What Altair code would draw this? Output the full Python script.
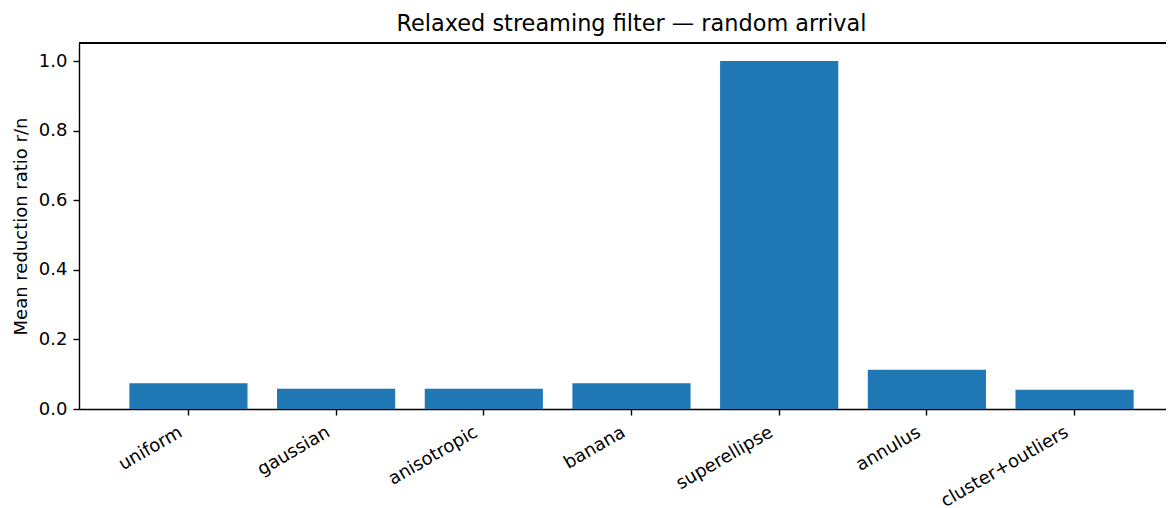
import altair as alt
import pandas as pd

categories = ["uniform", "gaussian", "anisotropic", "banana", "superellipse", "annulus", "cluster+outliers"]
values = [0.074, 0.058, 0.058, 0.074, 1.0, 0.113, 0.055]
y_ticks = [0.0, 0.2, 0.4, 0.6, 0.8, 1.0]

df = pd.DataFrame({"dist": categories, "ratio": values})

W = 1087
H = 366
FONT = "DejaVu Sans"

bars = alt.Chart(df).mark_bar(color="#1f77b4").encode(
    x=alt.X(
        "dist:N",
        sort=categories,
        title=None,
        scale=alt.Scale(range=[0, 1105], paddingInner=0.2, paddingOuter=0.341),
        axis=alt.Axis(
            labelAngle=330,
            labelAlign="right",
            labelBaseline="top",
            labelFontSize=18,
            labelFont=FONT,
            labelColor="black",
            labelPadding=8,
            labelOffset=-12,
            tickSize=6,
            tickColor="black",
            tickWidth=1.4,
            domainColor="black",
            domainWidth=1.4,
            grid=False,
        ),
    ),
    y=alt.Y(
        "ratio:Q",
        title="Mean reduction ratio r/n",
        scale=alt.Scale(domain=[0, 1.052], nice=False, zero=True),
        axis=alt.Axis(
            values=y_ticks,
            format=".1f",
            labelFontSize=18,
            labelFont=FONT,
            labelColor="black",
            labelPadding=6,
            tickSize=6,
            tickColor="black",
            tickWidth=1.4,
            domainColor="black",
            domainWidth=1.4,
            grid=False,
            titleFont=FONT,
            titleFontSize=18,
            titleFontWeight="normal",
            titleColor="black",
            titlePadding=8,
        ),
    ),
)

top_line = alt.Chart(df).mark_rule(color="black", strokeWidth=1.4).encode(
    x=alt.value(0), x2=alt.value(1105), y=alt.value(0)
)

chart = alt.layer(bars, top_line).properties(
    width=W,
    height=H,
    title=alt.TitleParams(
        "Relaxed streaming filter \u2014 random arrival",
        font=FONT,
        fontSize=22.4,
        fontWeight="normal",
        color="black",
        anchor="middle",
        dx=9,
        offset=7,
    ),
    autosize=alt.AutoSizeParams(type="none"),
    padding={"left": 71, "top": 35, "right": 0, "bottom": 99},
).configure_view(stroke=None)

chart.save("out.html", embed_options={"renderer": "svg", "actions": False})
